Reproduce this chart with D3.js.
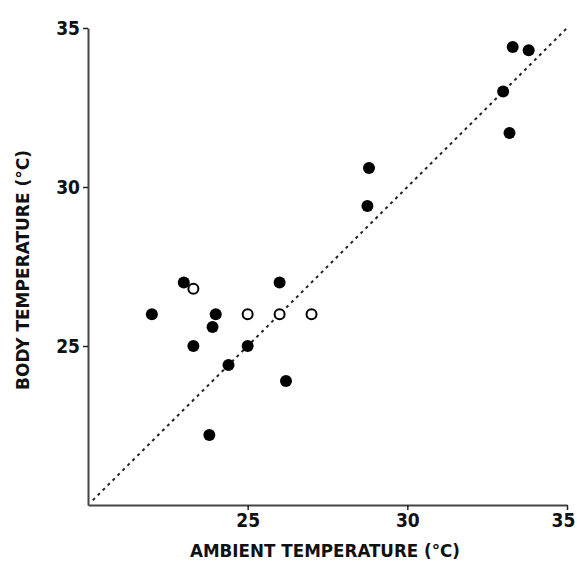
<!DOCTYPE html>
<html>
<head>
<meta charset="utf-8">
<script src="https://cdn.jsdelivr.net/npm/d3@7"></script>
<style>
  body { margin: 0; background: #fff; }
  text { font-family: "DejaVu Sans Condensed", "Liberation Sans Narrow", sans-serif; fill: #111; }
</style>
</head>
<body>
<div id="chart"></div>
<script>
// Data
var filledAmbient = [22.0, 23.0, 23.3, 24.0, 23.9, 23.8, 24.4, 25.0, 26.0, 26.2, 28.8, 28.75, 33.0, 33.2, 33.3, 33.8];
var filledBody    = [26.0, 27.0, 25.0, 26.0, 25.6, 22.2, 24.4, 25.0, 27.0, 23.9, 30.6, 29.4, 33.0, 31.7, 34.4, 34.3];
var openAmbient = [23.3, 25.0, 26.0, 27.0];
var openBody    = [26.8, 26.0, 26.0, 26.0];
var tickValues = [25, 30, 35];

var W = 577, H = 564;
var margin = {top: 28, right: 10, bottom: 59, left: 88};

var svg = d3.select("#chart")
  .append("svg")
  .attr("width", W)
  .attr("height", H);

var x = d3.scaleLinear().domain([20, 35]).range([margin.left, 567]);
var y = d3.scaleLinear().domain([20, 35]).range([H - margin.bottom, margin.top]);

// identity line
svg.append("line")
  .attr("x1", x(20.15)).attr("y1", y(20.15))
  .attr("x2", x(35)).attr("y2", y(35))
  .attr("stroke", "#222")
  .attr("stroke-width", 2)
  .attr("stroke-dasharray", "3,4");

// axes
var xAxis = svg.append("g")
  .attr("transform", "translate(0," + y(20) + ")")
  .call(d3.axisBottom(x).tickValues(tickValues).tickSize(5).tickSizeOuter(0).tickPadding(4));
var yAxis = svg.append("g")
  .attr("transform", "translate(" + x(20) + ",0)")
  .call(d3.axisLeft(y).tickValues(tickValues).tickSize(5).tickSizeOuter(0).tickPadding(3));

[xAxis, yAxis].forEach(function(a) {
  a.select(".domain").attr("stroke", "#444").attr("stroke-width", 2);
  a.selectAll(".tick line").attr("stroke", "#222").attr("stroke-width", 1.5);
  a.selectAll(".tick text")
    .style("font-family", "'DejaVu Sans Condensed', sans-serif")
    .style("font-size", "19px")
    .style("font-weight", "bold")
    .attr("fill", "#111");
});
yAxis.selectAll(".tick text").attr("dy", "0.36em");
// keep the last label inside the window
xAxis.selectAll(".tick text").filter(function(d) { return d === 35; }).attr("dx", -4);

// filled points
svg.append("g")
  .selectAll("circle")
  .data(filledAmbient.map(function(v, i) { return {a: v, b: filledBody[i]}; }))
  .enter().append("circle")
  .attr("cx", function(d) { return x(d.a); })
  .attr("cy", function(d) { return y(d.b); })
  .attr("r", 6)
  .attr("fill", "#000");

// open points
svg.append("g")
  .selectAll("circle")
  .data(openAmbient.map(function(v, i) { return {a: v, b: openBody[i]}; }))
  .enter().append("circle")
  .attr("cx", function(d) { return x(d.a); })
  .attr("cy", function(d) { return y(d.b); })
  .attr("r", 5)
  .attr("fill", "#fff")
  .attr("stroke", "#000")
  .attr("stroke-width", 2);

// axis titles
svg.append("text")
  .attr("x", 190)
  .attr("y", 557)
  .attr("textLength", 270)
  .attr("lengthAdjust", "spacingAndGlyphs")
  .style("font-size", "18px")
  .style("font-weight", "bold")
  .text("AMBIENT TEMPERATURE (°C)");

svg.append("text")
  .attr("transform", "translate(29,390) rotate(-90)")
  .attr("textLength", 240)
  .attr("lengthAdjust", "spacingAndGlyphs")
  .style("font-size", "18px")
  .style("font-weight", "bold")
  .text("BODY TEMPERATURE (°C)");
</script>
</body>
</html>
